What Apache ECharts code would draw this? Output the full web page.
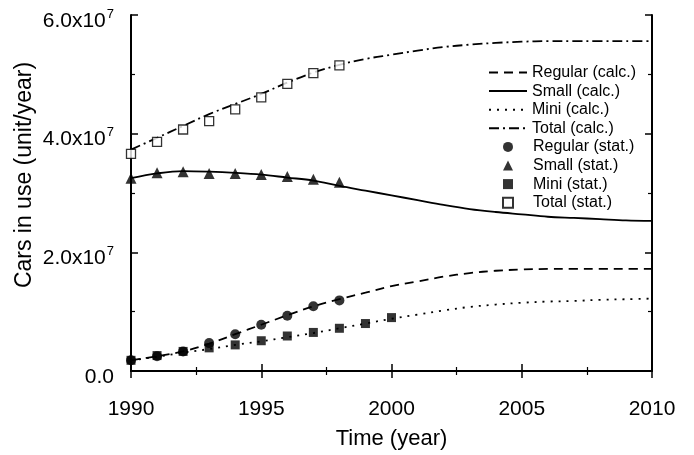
<!DOCTYPE html>
<html>
<head>
<meta charset="utf-8">
<script src="https://cdn.jsdelivr.net/npm/echarts@6/dist/echarts.min.js"></script>
<style>
  html, body { margin: 0; padding: 0; background: #fff; }
  #main { width: 694px; height: 455px; }
</style>
</head>
<body>
<div id="main"></div>
<script>
// calculated curves, one value per year
var years = [1990,1991,1992,1993,1994,1995,1996,1997,1998,1999,2000,
             2001,2002,2003,2004,2005,2006,2007,2008,2009,2010];
var regularCalc = [1.8e6,2.5e6,3.3e6,4.6e6,6.2e6,7.8e6,9.4e6,10.9e6,12.1e6,13.2e6,14.3e6,
                   15.1e6,15.9e6,16.5e6,16.9e6,17.1e6,17.2e6,17.2e6,17.2e6,17.2e6,17.2e6];
var smallCalc = [32.5e6,33.3e6,33.7e6,33.6e6,33.4e6,33.1e6,32.6e6,32.1e6,31.2e6,30.4e6,29.6e6,
                 28.8e6,28.0e6,27.3e6,26.8e6,26.4e6,26.0e6,25.8e6,25.6e6,25.4e6,25.3e6];
var miniCalc = [1.8e6,2.4e6,3.1e6,3.7e6,4.4e6,5.0e6,5.7e6,6.4e6,7.2e6,8.0e6,8.8e6,
                9.5e6,10.2e6,10.8e6,11.2e6,11.5e6,11.7e6,11.8e6,12.0e6,12.1e6,12.2e6];
var totalCalc = [37.3e6,39.3e6,41.3e6,43.3e6,45.0e6,46.7e6,48.6e6,50.3e6,51.6e6,52.6e6,53.3e6,
                 54.0e6,54.6e6,55.0e6,55.3e6,55.5e6,55.6e6,55.6e6,55.6e6,55.6e6,55.6e6];

// statistics
var statYears = [1990,1991,1992,1993,1994,1995,1996,1997,1998];
var regularStat = [1.8e6,2.5e6,3.3e6,4.7e6,6.2e6,7.8e6,9.3e6,10.9e6,11.9e6];
var smallStat = [32.5e6,33.4e6,33.6e6,33.3e6,33.3e6,33.1e6,32.8e6,32.3e6,31.8e6];
var totalStat = [36.6e6,38.6e6,40.7e6,42.1e6,44.1e6,46.1e6,48.4e6,50.2e6,51.5e6];
var miniYears = [1990,1991,1992,1993,1994,1995,1996,1997,1998,1999,2000];
var miniStat = [1.8e6,2.6e6,3.3e6,3.9e6,4.4e6,5.1e6,5.9e6,6.5e6,7.2e6,8.0e6,9.0e6];

var yTicks = [0, 2e7, 4e7, 6e7];
var calcNames = ['Regular (calc.)','Small (calc.)','Mini (calc.)','Total (calc.)'];
var statNames = ['Regular (stat.)','Small (stat.)','Mini (stat.)','Total (stat.)'];

function pairs(xs, ys) {
  return xs.map(function (x, i) { return [x, ys[i]]; });
}

var chartDom = document.getElementById('main');
var myChart = echarts.init(chartDom);
var FONT = 'Liberation Sans, Arial, sans-serif';

var axisBase = {
  type: 'value',
  axisLine: { show: true, lineStyle: { color: '#000', width: 2 } },
  axisTick: { show: true, inside: true, length: 7, lineStyle: { color: '#000', width: 1.5 } },
  minorTick: { show: true, splitNumber: 2, length: 4, lineStyle: { color: '#000', width: 1.2 } },
  splitLine: { show: false },
  minorSplitLine: { show: false }
};

function calcLine(name, data, type) {
  return {
    name: name, type: 'line', data: pairs(years, data), smooth: 0.35,
    symbol: 'none', showSymbol: false,
    lineStyle: { color: '#000', width: 1.8, type: type },
    itemStyle: { color: '#000' }, z: 2
  };
}
function statPts(name, xs, data, symbol, size, hollow) {
  return {
    name: name, type: 'scatter', data: pairs(xs, data),
    symbol: symbol, symbolSize: size,
    itemStyle: hollow ? { color: '#fff', borderColor: '#000', borderWidth: 1.3 }
                      : { color: '#000' },
    z: 3
  };
}

var legendText = { color: '#000', fontSize: 16, fontFamily: FONT, lineHeight: 17 };

var option = {
  backgroundColor: '#fff',
  animation: false,
  textStyle: { fontFamily: FONT },
  grid: { left: 131, right: 42, top: 15, bottom: 70 },
  legend: [{
    orient: 'vertical', left: 488, top: 64, padding: 0,
    itemWidth: 38, itemHeight: 10, itemGap: 1.6,
    data: calcNames.map(function (n) {
      return { name: n, itemStyle: { color: 'rgba(0,0,0,0)', borderWidth: 0, opacity: 0 } };
    }),
    textStyle: legendText
  }, {
    orient: 'vertical', left: 502, top: 138.4, padding: 0,
    itemWidth: 10, itemHeight: 10, itemGap: 1.6,
    data: statNames,
    textStyle: Object.assign({ padding: [0, 0, 0, 15] }, legendText)
  }],
  xAxis: [
    Object.assign({}, axisBase, {
      min: 1990, max: 2010, interval: 5, position: 'bottom',
      name: 'Time (year)', nameLocation: 'middle', nameGap: 57,
      nameTextStyle: { color: '#000', fontSize: 22, fontFamily: FONT },
      axisLabel: { color: '#000', fontSize: 21, margin: 28, fontFamily: FONT,
                   formatter: function (v) { return String(v); } }
    }),
    Object.assign({}, axisBase, {
      min: 1990, max: 2010, interval: 5, position: 'top',
      axisLabel: { show: false }
    })
  ],
  yAxis: [
    Object.assign({}, axisBase, {
      min: yTicks[0], max: yTicks[yTicks.length - 1], interval: yTicks[1] - yTicks[0],
      position: 'left',
      axisLabel: {
        color: '#000', fontSize: 21, margin: 17, fontFamily: FONT,
        formatter: function (v) {
          if (v === 0) return '{b|0.0}';
          return '{b|' + (v / 1e7).toFixed(1) + 'x10}{s|7}';
        },
        rich: {
          b: { fontSize: 21, color: '#000', fontFamily: FONT, padding: [12, 0, 0, 0] },
          s: { fontSize: 13, color: '#000', fontFamily: FONT, verticalAlign: 'top', padding: [9, 0, 0, 1] }
        }
      }
    }),
    Object.assign({}, axisBase, {
      min: yTicks[0], max: yTicks[yTicks.length - 1], interval: yTicks[1] - yTicks[0],
      position: 'right',
      axisLabel: { show: false }
    })
  ],
  graphic: [{
    type: 'text', x: 25, y: 175, rotation: Math.PI / 2,
    style: { text: 'Cars in use (unit/year)', fontSize: 23, fontFamily: FONT, fill: '#000',
             align: 'center', verticalAlign: 'middle' }
  }],
  series: [
    calcLine(calcNames[0], regularCalc, [9, 6]),
    calcLine(calcNames[1], smallCalc, 'solid'),
    calcLine(calcNames[2], miniCalc, [2, 6]),
    calcLine(calcNames[3], totalCalc, [10, 4, 2, 4]),
    statPts(statNames[0], statYears, regularStat, 'circle', 10, false),
    statPts(statNames[1], statYears, smallStat, 'triangle', 11, false),
    statPts(statNames[2], miniYears, miniStat, 'rect', 9, false),
    statPts(statNames[3], statYears, totalStat, 'rect', 9, true)
  ]
};

option && myChart.setOption(option);
</script>
</body>
</html>
